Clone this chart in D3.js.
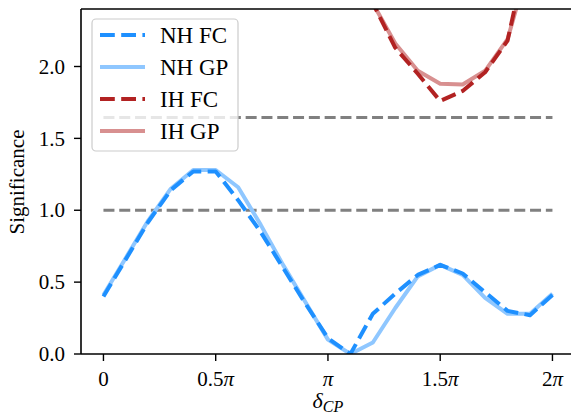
<!DOCTYPE html>
<html>
<head>
<meta charset="utf-8">
<script src="https://cdn.jsdelivr.net/npm/d3@7"></script>
<style>
  html, body { margin: 0; padding: 0; background: #fff; overflow: hidden; }
  svg { display: block; }
  text { font-family: "Liberation Serif", "DejaVu Serif", serif; fill: #000; }
</style>
</head>
<body>
<svg id="chart" width="571" height="415"></svg>
<script>
// delta_CP in units of pi
const deltaOverPi = [0.0, 0.1, 0.2, 0.3, 0.4, 0.5, 0.6, 0.7, 0.8, 0.9, 1.0,
                     1.1, 1.2, 1.3, 1.4, 1.5, 1.6, 1.7, 1.8, 1.9, 2.0];
const nhFC = [0.40, 0.66, 0.92, 1.14, 1.27, 1.27, 1.07, 0.85, 0.60, 0.35, 0.11,
              0.00, 0.28, 0.42, 0.55, 0.62, 0.56, 0.43, 0.30, 0.27, 0.41];
const nhGP = [0.41, 0.67, 0.93, 1.15, 1.28, 1.28, 1.16, 0.90, 0.62, 0.36, 0.10,
              0.00, 0.08, 0.32, 0.54, 0.62, 0.55, 0.39, 0.28, 0.28, 0.42];
const ihFC = [4.4, 4.5, 4.6, 4.6, 4.5, 4.3, 4.0, 3.7, 3.4, 3.1, 2.9,
              2.75, 2.44, 2.13, 1.95, 1.76, 1.83, 1.96, 2.18, 2.89, 3.6];
const ihGP = [4.4, 4.5, 4.6, 4.6, 4.5, 4.3, 4.0, 3.7, 3.4, 3.1, 2.9,
              2.75, 2.44, 2.16, 1.97, 1.88, 1.875, 1.97, 2.19, 2.74, 3.5];
const thresholds = [1.0, 1.645];
const xTicks = [0, 0.5, 1, 1.5, 2];
const xTickLabels = ["0", "0.5π", "π", "1.5π", "2π"];
const yTicks = [0.0, 0.5, 1.0, 1.5, 2.0];
const legendLabels = ["NH FC", "NH GP", "IH FC", "IH GP"];

const svg = d3.select("#chart");
const L = 81, T = 9, B = 354;
const x = d3.scaleLinear().domain([-0.1, 2.1]).range([L, L + 449 * 1.1]);
const y = d3.scaleLinear().domain([0, 2.4]).range([B, T]);

svg.append("defs").append("clipPath").attr("id", "clip")
  .append("rect").attr("x", L).attr("y", T).attr("width", 600).attr("height", B - T);

const plot = svg.append("g").attr("clip-path", "url(#clip)");

// threshold lines
thresholds.forEach(t => {
  plot.append("line")
    .attr("x1", x(0)).attr("x2", x(2))
    .attr("y1", y(t)).attr("y2", y(t))
    .attr("stroke", "#808080").attr("stroke-width", 3)
    .attr("stroke-dasharray", "11,4.8");
});

const line = d3.line().x((d, i) => x(deltaOverPi[i])).y(d => y(d));

const series = [
  {data: nhGP, color: "#8fc7ff", dash: null},
  {data: ihGP, color: "#d89090", dash: null},
  {data: nhFC, color: "#1e90ff", dash: "14.8,6.4"},
  {data: ihFC, color: "#b22222", dash: "14.8,6.4"}
];
series.forEach(s => {
  plot.append("path").datum(s.data)
    .attr("d", line)
    .attr("fill", "none")
    .attr("stroke", s.color)
    .attr("stroke-width", 4)
    .attr("stroke-linejoin", "round")
    .attr("stroke-dasharray", s.dash);
});

// spines
svg.append("line").attr("x1", L).attr("x2", L).attr("y1", T).attr("y2", B)
  .attr("stroke", "#000").attr("stroke-width", 1.6);
svg.append("line").attr("x1", L).attr("x2", 575).attr("y1", B).attr("y2", B)
  .attr("stroke", "#000").attr("stroke-width", 1.6);
svg.append("line").attr("x1", L).attr("x2", 575).attr("y1", T).attr("y2", T)
  .attr("stroke", "#000").attr("stroke-width", 1.6);

// x ticks
xTicks.forEach((t, i) => {
  svg.append("line").attr("x1", x(t)).attr("x2", x(t)).attr("y1", B).attr("y2", B + 7)
    .attr("stroke", "#000").attr("stroke-width", 1.4);
  const lbl = xTickLabels[i];
  const txt = svg.append("text").attr("x", x(t)).attr("y", 386)
    .attr("text-anchor", "middle").attr("font-size", 21);
  if (lbl.endsWith("π")) {
    const num = lbl.slice(0, -1);
    if (num) txt.append("tspan").text(num);
    txt.append("tspan").attr("font-style", "italic").text("π");
  } else {
    txt.text(lbl);
  }
});

// y ticks
yTicks.forEach(t => {
  svg.append("line").attr("x1", L - 7).attr("x2", L).attr("y1", y(t)).attr("y2", y(t))
    .attr("stroke", "#000").attr("stroke-width", 1.4);
  svg.append("text").attr("x", 65).attr("y", y(t)).attr("dy", "0.34em")
    .attr("text-anchor", "end").attr("font-size", 21).text(t.toFixed(1));
});

// axis labels
svg.append("text").attr("transform", "translate(24,182) rotate(-90)")
  .attr("text-anchor", "middle").attr("font-size", 21).text("Significance");
const xl = svg.append("text").attr("x", x(1)).attr("y", 408)
  .attr("text-anchor", "middle").attr("font-size", 22);
xl.append("tspan").attr("font-style", "italic").text("δ");
xl.append("tspan").attr("font-style", "italic").attr("font-size", 16).attr("dy", 4).text("CP");

// legend
const lg = svg.append("g");
lg.append("rect").attr("x", 92).attr("y", 19).attr("width", 146).attr("height", 132)
  .attr("rx", 4).attr("fill", "#fff").attr("fill-opacity", 0.8)
  .attr("stroke", "#cccccc").attr("stroke-width", 1.2);
const legendStyles = [series[2], series[0], series[3], series[1]];
legendLabels.forEach((lab, i) => {
  const cy = 35 + i * 32;
  lg.append("line").attr("x1", 100).attr("x2", 145).attr("y1", cy).attr("y2", cy)
    .attr("stroke", legendStyles[i].color).attr("stroke-width", 4)
    .attr("stroke-dasharray", legendStyles[i].dash);
  lg.append("text").attr("x", 160).attr("y", cy).attr("dy", "0.34em")
    .attr("font-size", 23).text(lab);
});
</script>
</body>
</html>
